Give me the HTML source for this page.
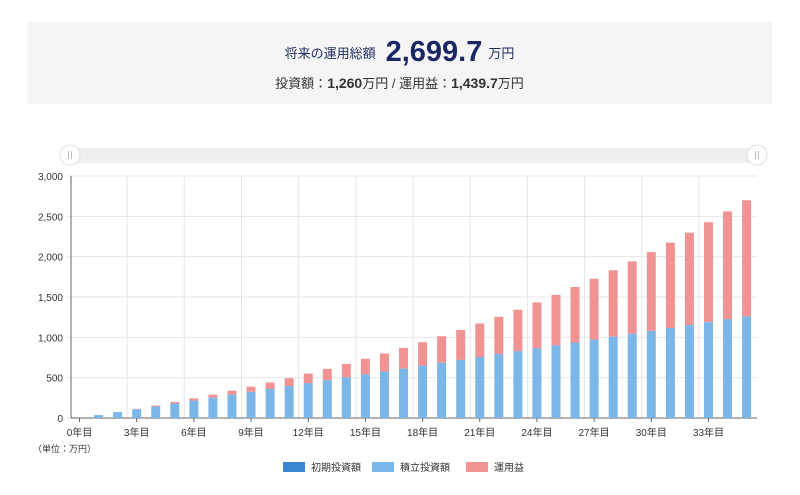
<!DOCTYPE html>
<html><head><meta charset="utf-8"><style>
body{margin:0;width:800px;height:495px;background:#fff;font-family:"Liberation Sans","Noto Sans CJK JP",sans-serif;overflow:hidden;position:relative}
.box{position:absolute;left:27px;top:22px;width:745px;height:82px;background:#f5f5f5;text-align:center;color:#333}
.l1{position:absolute;top:14px;width:100%;font-size:13px;color:#1d2b5e}
.big{font-size:29px;font-weight:bold;color:#1a2766;margin:0 6px 0 10px;vertical-align:-3px}
.l2{position:absolute;top:51px;width:100%;font-size:13px;color:#333}
.l2 b{font-size:14px}
</style></head><body>
<div class="box"><div class="l1">将来の運用総額<span class="big">2,699.7</span>万円</div>
<div class="l2">投資額：<b>1,260</b>万円 / 運用益：<b>1,439.7</b>万円</div></div>
<svg id="s" width="800" height="495" style="position:absolute;left:0;top:0"></svg>
<script>
var s=document.getElementById('s'),h='';
h+='<rect x="70" y="148" width="687" height="15" fill="#eeeeee"/>';
[70,757].forEach(function(x){h+='<circle cx="'+x+'" cy="155" r="10" fill="#fff" stroke="#ddd"/><line x1="'+(x-1.5)+'" y1="151" x2="'+(x-1.5)+'" y2="159" stroke="#bbb"/><line x1="'+(x+1.5)+'" y1="151" x2="'+(x+1.5)+'" y2="159" stroke="#bbb"/>';});
var y0=418,k=242/3000,x0=79.5,dx=19.06;
for(var v=0;v<=3000;v+=500){var y=y0-v*k;h+='<line x1="67" x2="757" y1="'+y+'" y2="'+y+'" stroke="#e6e6e6"/><text x="63" y="'+(y+4)+'" font-size="10" fill="#333" text-anchor="end">'+(v>=1000?(v/1000|0)+','+String(v%1000).padStart(3,'0'):v)+'</text>';}
for(var i=0;i<12;i++){var x=x0+dx*(3*i-0.5);if(i>0)h+='<line x1="'+x+'" x2="'+x+'" y1="176" y2="418" stroke="#e6e6e6"/>';}
h+='<line x1="71" x2="71" y1="176" y2="418" stroke="#666"/><line x1="71" x2="757" y1="418" y2="418" stroke="#666"/>';
function fv(r,m){var t=0;for(var j=0;j<m;j++)t=t*(1+r)+3;return t;}
var lo=0,hi=0.01;for(var it=0;it<60;it++){var md=(lo+hi)/2;if(fv(md,420)>2699.7)hi=md;else lo=md;}
var r=lo;
for(var n=0;n<=35;n++){var x=x0+dx*n,tot=fv(r,12*n),b=36*n;
var yb=y0-b*k,yt=y0-tot*k;
h+='<rect x="'+(x-4.5)+'" y="'+yt+'" width="9" height="'+(yb-yt)+'" fill="#f29393"/>';
h+='<rect x="'+(x-4.5)+'" y="'+yb+'" width="9" height="'+(y0-yb)+'" fill="#7ab6e8"/>';
if(n%3==0&&n<=33)h+='<line x1="'+x+'" x2="'+x+'" y1="418" y2="422" stroke="#666"/><text x="'+x+'" y="436" font-size="10" fill="#333" text-anchor="middle">'+n+'年目</text>';}
h+='<text x="33" y="452" font-size="9" fill="#333">（単位：万円）</text>';
var L=[[283,'#3a87cf','初期投資額'],[372,'#7ab6e8','積立投資額'],[466,'#f29393','運用益']];
L.forEach(function(a){h+='<rect x="'+a[0]+'" y="462" width="22" height="10" fill="'+a[1]+'"/><text x="'+(a[0]+28)+'" y="471" font-size="10" fill="#333">'+a[2]+'</text>';});
s.innerHTML=h;
</script></body></html>
